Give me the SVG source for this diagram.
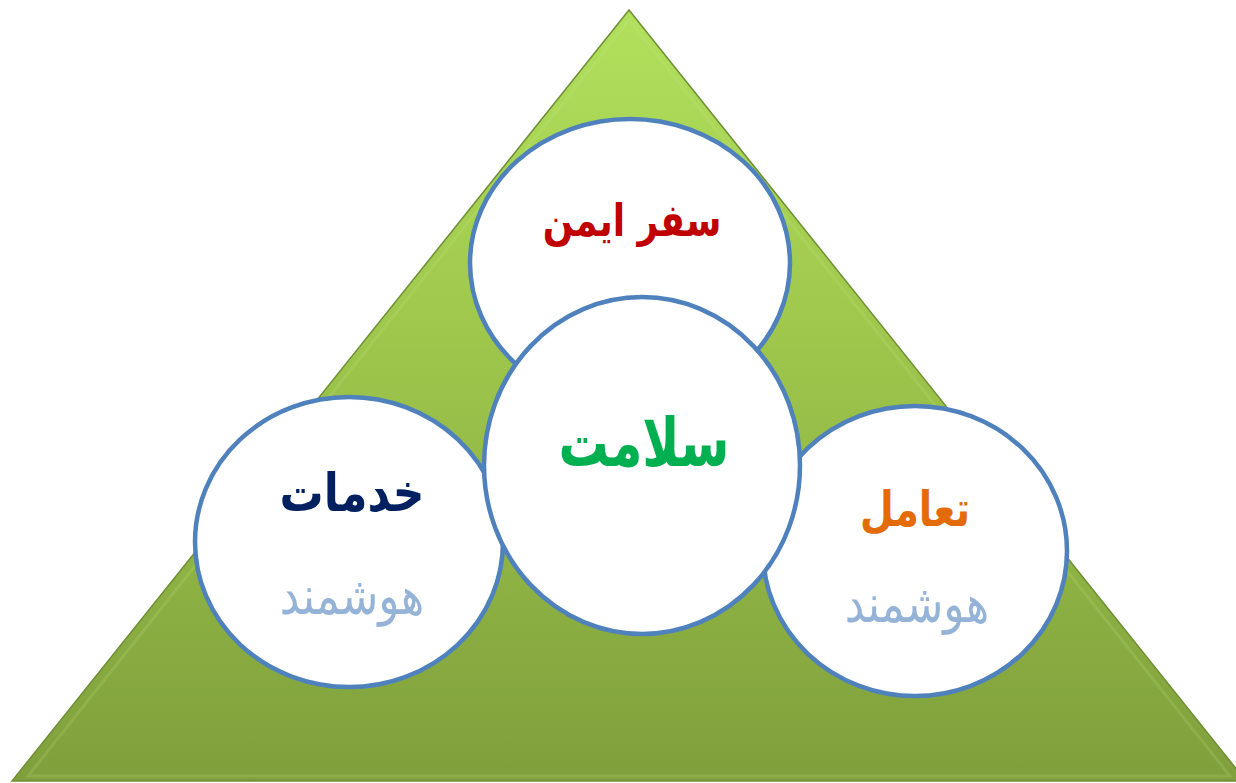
<svg xmlns="http://www.w3.org/2000/svg" width="1236" height="783" viewBox="0 0 1236 783">
<defs>
<linearGradient id="tri" x1="0" y1="0" x2="0" y2="1">
<stop offset="0" stop-color="#b2e05c"/>
<stop offset="0.45" stop-color="#9dc54b"/>
<stop offset="1" stop-color="#7f9f3c"/>
</linearGradient>
<style>
.c{fill:#ffffff;stroke:#4f81bd;stroke-width:4.5}
.t{font-family:"DejaVu Sans",sans-serif;text-anchor:middle}
.b{font-weight:bold}
</style>
</defs>
<g id="triangle">
<polygon points="629,10 12,781 1246,781" fill="url(#tri)" stroke="#6f8f35" stroke-width="1.5"/>
<polygon points="629,20 28,776 1230,776" fill="none" stroke="#c4e88a" stroke-opacity="0.18" stroke-width="3"/>
</g>
<g id="node-top">
<ellipse class="c" cx="630" cy="263" rx="160" ry="144"/>
<text class="t b" transform="translate(632,236) scale(1,1.25)" font-size="36" fill="#c00000">سفر ایمن</text>
</g>
<g id="node-left">
<ellipse class="c" cx="349" cy="542" rx="154" ry="145"/>
<text class="t b" transform="translate(352,511) scale(1,1.2)" font-size="44" fill="#002060">خدمات</text>
<text class="t" transform="translate(352,614) scale(1,1.2)" font-size="44" fill="#95b3d7">هوشمند</text>
</g>
<g id="node-right">
<ellipse class="c" cx="915" cy="551" rx="152" ry="145"/>
<text class="t b" transform="translate(915,526) scale(1,1.25)" font-size="39" fill="#e36c09">تعامل</text>
<text class="t" transform="translate(917,622) scale(1,1.2)" font-size="44" fill="#95b3d7">هوشمند</text>
</g>
<g id="node-center">
<ellipse class="c" cx="642" cy="465.5" rx="158" ry="168.5"/>
<text class="t b" transform="translate(644,466) scale(1,1.35)" font-size="50" fill="#00b050">سلامت</text>
</g>
<g id="connectors"></g>
</svg>
